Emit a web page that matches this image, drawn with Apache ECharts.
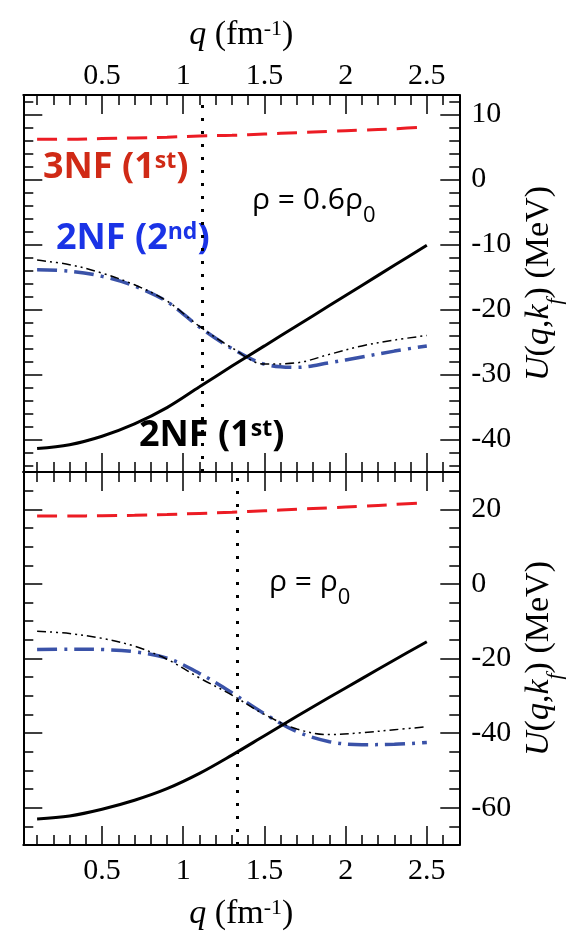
<!DOCTYPE html>
<html><head><meta charset="utf-8">
<script src="https://cdn.jsdelivr.net/npm/echarts@6/dist/echarts.min.js"></script>
<style>html,body{margin:0;padding:0;background:#fff}#c{width:577px;height:940px}</style>
</head><body><div id="c"></div>
<script>
// ---- data ----
const qValues = [0.1, 0.3, 0.5, 0.7, 0.9, 1.1, 1.3, 1.5, 1.7, 1.9, 2.1, 2.3, 2.5];
// upper panel: rho = 0.6 rho0
const nf3FirstUpper  = [6.2, 6.2, 6.3, 6.4, 6.5, 6.7, 6.8, 7.0, 7.2, 7.4, 7.6, 7.8, 8.1];
const nf2FirstUpper  = [-41.4, -40.8, -39.5, -37.6, -35.1, -31.9, -28.7, -25.6, -22.5, -19.4, -16.3, -13.2, -10.1];
const nf2SecondUpper = [-13.9, -14.1, -14.9, -16.4, -18.8, -22.7, -26.0, -28.4, -28.9, -28.2, -27.3, -26.4, -25.6];
const otherUpper     = [-12.4, -13.1, -14.4, -16.2, -18.7, -22.6, -25.9, -28.4, -28.2, -26.9, -25.6, -24.7, -24.0];
// lower panel: rho = rho0
const nf3FirstLower  = [18.2, 18.2, 18.3, 18.4, 18.6, 18.9, 19.2, 19.6, 20.0, 20.4, 20.8, 21.3, 21.8];
const nf2FirstLower  = [-63.0, -62.2, -60.4, -58.0, -54.9, -50.8, -45.9, -40.7, -35.5, -30.4, -25.4, -20.4, -15.5];
const nf2SecondLower = [-17.6, -17.5, -17.6, -18.2, -19.9, -24.0, -29.2, -34.8, -39.6, -42.3, -43.1, -43.0, -42.5];
const otherLower     = [-12.7, -13.3, -14.6, -16.7, -20.2, -25.2, -29.8, -35.0, -38.9, -40.4, -39.9, -39.1, -38.3];
// Fermi momenta (dotted lines)
const kF = [1.12, 1.33];
// axes
const xRange = [0.015, 2.7];
const xMajorTicks = [0.5, 1, 1.5, 2, 2.5];
const xMinorTicks = [0.1,0.2,0.3,0.4,0.6,0.7,0.8,0.9,1.1,1.2,1.3,1.4,1.6,1.7,1.8,1.9,2.1,2.2,2.3,2.4,2.6];
const yRangeUpper = [-45, 13];
const yMajorUpper = [-40, -30, -20, -10, 0, 10];
const yMinorUpper = [-44,-42,-38,-36,-34,-32,-28,-26,-24,-22,-18,-16,-14,-12,-8,-6,-4,-2,2,4,6,8,12];
const yRangeLower = [-70, 30];
const yMajorLower = [-60, -40, -20, 0, 20];
const yMinorLower = [-65,-55,-50,-45,-35,-30,-25,-15,-10,-5,5,10,15,25];

// ---- styling ----
const SERIF = 'Liberation Serif';
const SANS = 'Open Sans';
const GRIDS = [
  {left: 23.3, width: 436, top: 95, height: 377},
  {left: 23.3, width: 436, top: 472, height: 376}
];
const MAJ = 19, MIN = 10;
const noLine = {show: false, onZero: false};

function xAx(grid, position, ticks, len, extra) {
  return Object.assign({
    type: 'value', gridIndex: grid, position, min: xRange[0], max: xRange[1],
    axisLine: {show: true, onZero: false, lineStyle: {color: '#000', width: 2}},
    axisTick: {show: true, inside: true, length: len, customValues: ticks, lineStyle: {color: '#000', width: 1.5}},
    axisLabel: {show: false},
    splitLine: {show: false}
  }, extra || {});
}
function yAx(grid, position, range, ticks, len, extra) {
  return Object.assign({
    type: 'value', gridIndex: grid, position, min: range[0], max: range[1],
    axisLine: {show: true, onZero: false, lineStyle: {color: '#000', width: 2}},
    axisTick: {show: true, inside: true, length: len, customValues: ticks, lineStyle: {color: '#000', width: 1.5}},
    axisLabel: {show: false},
    splitLine: {show: false}
  }, extra || {});
}
const labelStyle = {fontFamily: SERIF, fontSize: 30, color: '#000'};
const nameRich = {
  i: {fontFamily: SERIF, fontSize: 34, fontStyle: 'italic', color: '#000', lineHeight: 34, verticalAlign: 'bottom'},
  n: {fontFamily: SERIF, fontSize: 34, color: '#000', lineHeight: 34, verticalAlign: 'bottom'},
  sup: {fontFamily: SERIF, fontSize: 22, color: '#000', lineHeight: 22, verticalAlign: 'top', padding: [0, 0, 20, 0]}
};
const yNameRich = {
  i: {fontFamily: SERIF, fontSize: 34, fontStyle: 'italic', color: '#000', lineHeight: 34, verticalAlign: 'top'},
  n: {fontFamily: SERIF, fontSize: 34, color: '#000', lineHeight: 34, verticalAlign: 'top'},
  sub: {fontFamily: SERIF, fontSize: 22, fontStyle: 'italic', color: '#000', lineHeight: 44, verticalAlign: 'bottom'}
};
const qName = '{i|q}{n| (fm}{sup|-1}{n|)}';
const uName = '{i|U}{n|(}{i|q}{n|,}{i|k}{sub|f}{n|) (MeV)}';

const xAxes = [
  xAx(0, 'top', xMajorTicks, MAJ, {
    axisLabel: Object.assign({show: true, customValues: xMajorTicks, margin: 4}, labelStyle),
    name: qName, nameLocation: 'middle', nameGap: 36, nameTextStyle: {rich: nameRich}
  }),
  xAx(0, 'bottom', xMajorTicks, MAJ),
  xAx(0, 'top', xMinorTicks, MIN, {axisLine: noLine}),
  xAx(0, 'bottom', xMinorTicks, MIN, {axisLine: noLine}),
  xAx(1, 'top', xMajorTicks, MAJ),
  xAx(1, 'bottom', xMajorTicks, MAJ, {
    axisLabel: Object.assign({show: true, customValues: xMajorTicks, margin: 11}, labelStyle),
    name: qName, nameLocation: 'middle', nameGap: 52, nameTextStyle: {rich: nameRich}
  }),
  xAx(1, 'top', xMinorTicks, MIN, {axisLine: noLine}),
  xAx(1, 'bottom', xMinorTicks, MIN, {axisLine: noLine})
];
const yAxes = [
  yAx(0, 'right', yRangeUpper, yMajorUpper, MAJ, {
    axisLabel: Object.assign({show: true, customValues: yMajorUpper, margin: 12, align: 'left'}, labelStyle),
    name: uName, nameLocation: 'middle', nameGap: 62, nameTextStyle: {rich: yNameRich}
  }),
  yAx(0, 'left', yRangeUpper, yMajorUpper, MAJ),
  yAx(0, 'right', yRangeUpper, yMinorUpper, MIN, {axisLine: noLine}),
  yAx(0, 'left', yRangeUpper, yMinorUpper, MIN, {axisLine: noLine}),
  yAx(1, 'right', yRangeLower, yMajorLower, MAJ, {
    axisLabel: Object.assign({show: true, customValues: yMajorLower, margin: 12, align: 'left'}, labelStyle),
    name: uName, nameLocation: 'middle', nameGap: 62, nameTextStyle: {rich: yNameRich}
  }),
  yAx(1, 'left', yRangeLower, yMajorLower, MAJ),
  yAx(1, 'right', yRangeLower, yMinorLower, MIN, {axisLine: noLine}),
  yAx(1, 'left', yRangeLower, yMinorLower, MIN, {axisLine: noLine})
];

const STY = {
  nf3: {color: '#ec1c24', width: 3, type: [20, 10]},
  nf2First: {color: '#000', width: 3, type: 'solid'},
  nf2Second: {color: '#3a52a8', width: 3.5, type: [20, 7, 3, 7]},
  other: {color: '#000', width: 1.5, type: [9, 4, 2, 4, 2, 4]}
};
function ser(xi, yi, vals, style, z, mark) {
  const s = {
    type: 'line', xAxisIndex: xi, yAxisIndex: yi,
    data: qValues.map((q, i) => [q, vals[i]]),
    symbol: 'none', showSymbol: false, smooth: 0.35, silent: true,
    lineStyle: style, z: z, animation: false
  };
  if (mark != null) {
    s.markLine = {
      silent: true, symbol: ['none', 'none'], label: {show: false}, animation: false,
      lineStyle: {color: '#000', width: 3, type: [3, 10]},
      data: [{xAxis: mark}]
    };
  }
  return s;
}
const series = [
  ser(1, 0, nf3FirstUpper, STY.nf3, 3),
  ser(1, 0, nf2SecondUpper, STY.nf2Second, 4),
  ser(1, 0, otherUpper, STY.other, 5),
  ser(1, 0, nf2FirstUpper, STY.nf2First, 6, kF[0]),
  ser(5, 4, nf3FirstLower, STY.nf3, 3),
  ser(5, 4, nf2SecondLower, STY.nf2Second, 4),
  ser(5, 4, otherLower, STY.other, 5),
  ser(5, 4, nf2FirstLower, STY.nf2First, 6, kF[1])
];

function annRich(color) {
  return {
    m: {fontFamily: SANS, fontWeight: 'bold', fontSize: 36, fill: color, lineHeight: 36, verticalAlign: 'bottom'},
    s: {fontFamily: SANS, fontWeight: 'bold', fontSize: 23, fill: color, lineHeight: 24, verticalAlign: 'top'}
  };
}
const rhoRich = {
  m: {fontFamily: SANS, fontSize: 30, fill: '#000', lineHeight: 30, verticalAlign: 'top'},
  b: {fontFamily: SANS, fontSize: 22, fill: '#000', lineHeight: 42, verticalAlign: 'bottom'}
};
const graphic = [
  {type: 'text', x: 43, y: 150, silent: true, style: {text: '{m|3NF (1}{s|st}{m|)}', rich: annRich('#d02a16'), verticalAlign: 'top', align: 'left'}},
  {type: 'text', x: 56, y: 221, silent: true, style: {text: '{m|2NF (2}{s|nd}{m|)}', rich: annRich('#1a33e6'), verticalAlign: 'top', align: 'left'}},
  {type: 'text', x: 139, y: 418, silent: true, style: {text: '{m|2NF (1}{s|st}{m|)}', rich: annRich('#000'), verticalAlign: 'top', align: 'left'}},
  {type: 'text', x: 252, y: 185, silent: true, style: {text: '{m|ρ = 0.6ρ}{b|0}', rich: rhoRich, verticalAlign: 'top', align: 'left'}},
  {type: 'text', x: 269, y: 567, silent: true, style: {text: '{m|ρ = ρ}{b|0}', rich: rhoRich, verticalAlign: 'top', align: 'left'}}
];

const chart = echarts.init(document.getElementById('c'), null, {renderer: 'canvas'});
chart.setOption({
  animation: false,
  backgroundColor: '#fff',
  grid: GRIDS,
  xAxis: xAxes,
  yAxis: yAxes,
  series: series,
  graphic: graphic
});
</script>
</body></html>
